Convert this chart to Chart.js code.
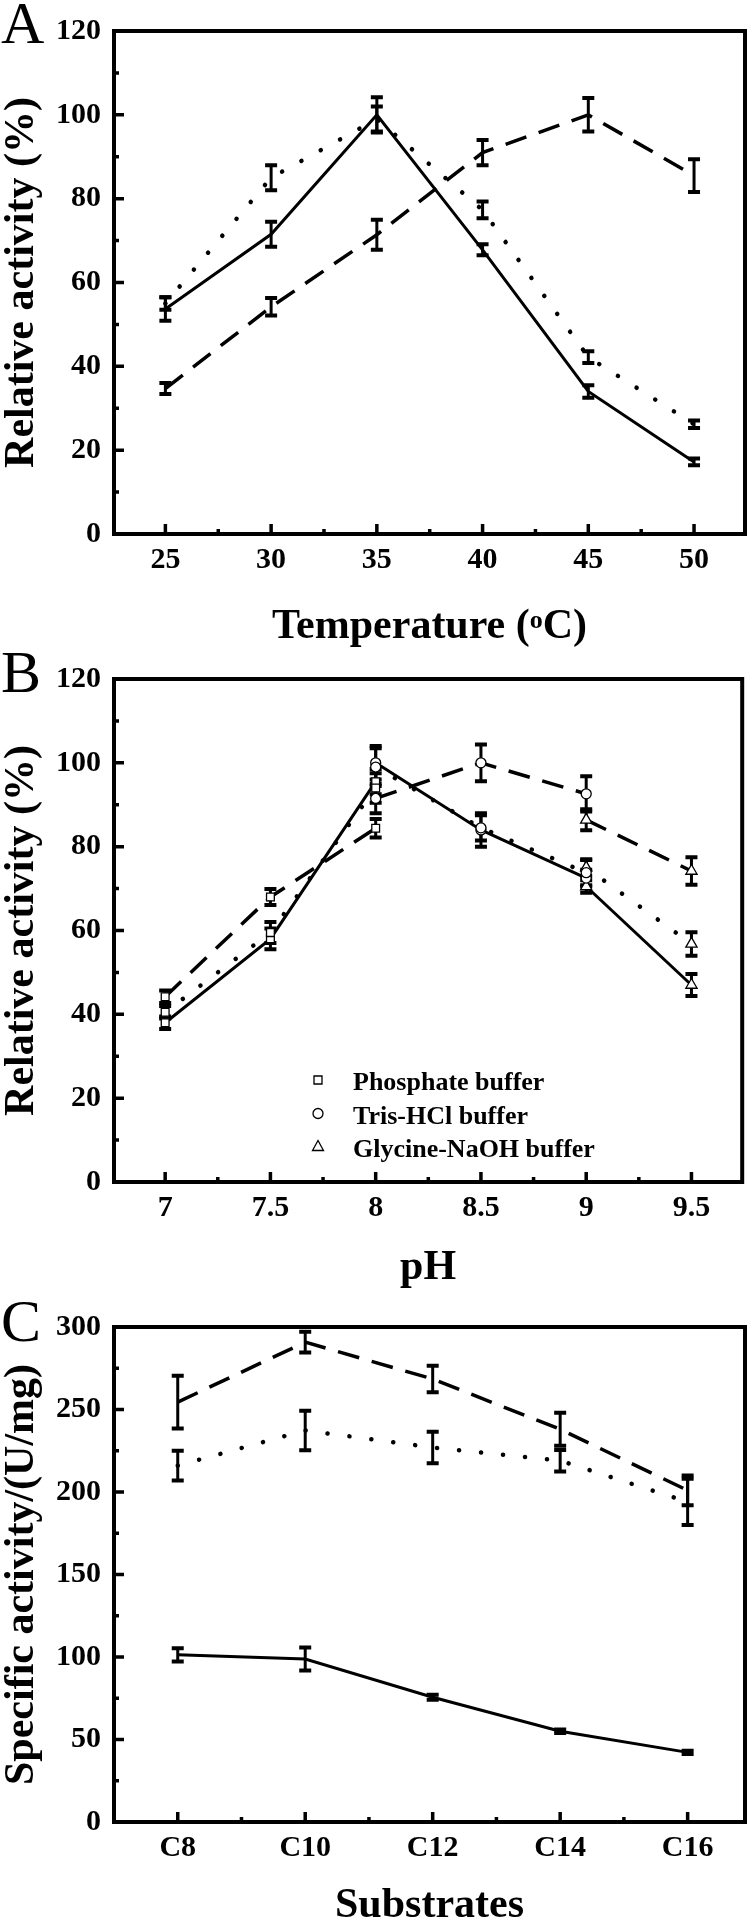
<!DOCTYPE html>
<html>
<head>
<meta charset="utf-8">
<script src="https://cdn.jsdelivr.net/npm/chart.js@4.4.1/dist/chart.umd.min.js"></script>
<style>
  html, body { margin: 0; padding: 0; background: #fff; }
  body { width: 750px; height: 1922px; position: relative; overflow: hidden; }
  canvas { position: absolute; left: 0; }
</style>
</head>
<body>
<canvas id="chartA" width="750" height="648" style="top:0px"></canvas>
<canvas id="chartB" width="750" height="648" style="top:648px"></canvas>
<canvas id="chartC" width="750" height="626" style="top:1296px"></canvas>
<script>
const FONT = "'Liberation Serif', 'Times New Roman', serif";

// --- Panel A: temperature
const tempX = [25, 30, 35, 40, 45, 50];
const tempTickLabels = ['25', '30', '35', '40', '45', '50'];
const tempTicksY = [0, 20, 40, 60, 80, 100, 120];
const tempSolid = [53.7, 71.5, 100, 67.8, 34, 17.2];
const tempSolidErr = [2.8, 3, 4.2, 1.3, 1.5, 0.8];
const tempDotted = [55, 85, 99, 77.3, 42.2, 26.2];
const tempDottedErr = [1.5, 3, 3, 2, 1.4, 0.9];
const tempDashed = [34.7, 54.2, 71.4, 91, 100, 85.5];
const tempDashedErr = [1.3, 2.1, 3.6, 3, 4, 3.9];

// --- Panel B: pH (three buffers)
const phTicksX = [7, 7.5, 8, 8.5, 9, 9.5];
const phTickLabels = ['7', '7.5', '8', '8.5', '9', '9.5'];
const phTicksY = [0, 20, 40, 60, 80, 100, 120];
const phPhosphate = [7, 7.5, 8];
const phTris = [8, 8.5, 9];
const phGlycine = [9, 9.5];
const bufferNames = ['Phosphate buffer', 'Tris-HCl buffer', 'Glycine-NaOH buffer'];

const solidPhosphate = [38, 58, 95.5];
const solidPhosphateErr = [1.5, 2.5, 3];
const solidTris = [100, 84, 72.5];
const solidTrisErr = [4, 4, 2];
const solidGlycine = [70.5, 47];
const solidGlycineErr = [1.5, 2.6];

const dottedPhosphate = [40.5, 59.5, 94];
const dottedPhosphateErr = [1.5, 2.5, 3.5];
const dottedTris = [99, 84.5, 73.8];
const dottedTrisErr = [4.5, 3, 3];
const dottedGlycine = [75, 56.8];
const dottedGlycineErr = [2, 2.8];

const dashedPhosphate = [44.2, 68, 84.4];
const dashedPhosphateErr = [1.5, 1.9, 2.2];
const dashedTris = [91.5, 100, 92.6];
const dashedTrisErr = [3.5, 4.4, 4.2];
const dashedGlycine = [86.4, 74.2];
const dashedGlycineErr = [2.5, 3.3];

// --- Panel C: substrates
const substrates = ['C8', 'C10', 'C12', 'C14', 'C16'];
const subTicksY = [0, 50, 100, 150, 200, 250, 300];
const subSolid = [101.3, 98.8, 75.6, 55, 42.2];
const subSolidErr = [4, 7, 1.5, 1, 1];
const subDotted = [216, 237.3, 227, 219, 194];
const subDottedErr = [9, 12, 9.5, 6.5, 14];
const subDashed = [254.5, 290.8, 268.5, 238, 201];
const subDashedErr = [16, 6.3, 8, 10, 9];

const LINE = {
  solid: { borderWidth: 3, borderDash: [] },
  dotted: { borderWidth: 4.5, borderDash: [0.1, 22], borderCapStyle: 'round' },
  dashed: { borderWidth: 3.5, borderDash: [22, 13] }
};
const MARK = {
  square: { style: 'rect', r: 5.5 },
  circle: { style: 'circle', r: 5 },
  triangle: { style: 'triangle', r: 6.5 }
};

function series(xs, ys, errs, style, marker) {
  return Object.assign({
    data: xs.map((x, i) => ({ x: x, y: ys[i] })),
    errors: errs,
    borderColor: '#000',
    fill: false,
    tension: 0,
    pointRadius: marker ? marker.r : 0,
    pointStyle: marker ? marker.style : 'circle',
    pointBackgroundColor: '#fff',
    pointBorderColor: '#000',
    pointBorderWidth: 1.3
  }, LINE[style]);
}

// text and legend bits per canvas
const panelInfo = {
  chartA: { letter: 'A', letterY: 43, titleY: 638,
            title: [{ t: 'Temperature (' }, { t: 'o', sup: true }, { t: 'C)' }] },
  chartB: { letter: 'B', letterY: 44, titleY: 631, title: [{ t: 'pH' }], legend: true },
  chartC: { letter: 'C', letterY: 45, titleY: 621, title: [{ t: 'Substrates' }] }
};

// error bars, drawn under the lines/markers
const errorBars = {
  id: 'errorBars',
  beforeDatasetsDraw(chart) {
    const { ctx, scales: { x, y } } = chart;
    ctx.save();
    ctx.strokeStyle = '#000';
    chart.data.datasets.forEach(ds => {
      if (!ds.errors) return;
      ds.data.forEach((p, i) => {
        const e = ds.errors[i];
        const px = x.getPixelForValue(p.x);
        const top = y.getPixelForValue(p.y + e);
        const bot = y.getPixelForValue(p.y - e);
        ctx.lineWidth = 3;
        ctx.beginPath();
        ctx.moveTo(px, top);
        ctx.lineTo(px, bot);
        ctx.stroke();
        ctx.lineWidth = 4;
        ctx.beginPath();
        ctx.moveTo(px - 6, top); ctx.lineTo(px + 6, top);
        ctx.moveTo(px - 6, bot); ctx.lineTo(px + 6, bot);
        ctx.stroke();
      });
    });
    ctx.restore();
  }
};

// box frame + inward major/minor ticks
const frame = {
  id: 'frame',
  afterDraw(chart) {
    const { ctx, chartArea: a, scales: { x, y } } = chart;
    ctx.save();
    ctx.strokeStyle = '#000';
    ctx.lineWidth = 3.5;
    const xt = x.ticks.map(t => t.value);
    const yt = y.ticks.map(t => t.value);
    ctx.beginPath();
    xt.forEach((v, i) => {
      const px = x.getPixelForValue(v);
      ctx.moveTo(px, a.bottom); ctx.lineTo(px, a.bottom - 10);
      if (i < xt.length - 1) {
        const m = x.getPixelForValue((v + xt[i + 1]) / 2);
        ctx.moveTo(m, a.bottom); ctx.lineTo(m, a.bottom - 5);
      }
    });
    yt.forEach((v, i) => {
      const py = y.getPixelForValue(v);
      ctx.moveTo(a.left, py); ctx.lineTo(a.left + 10, py);
      if (i < yt.length - 1) {
        const m = y.getPixelForValue((v + yt[i + 1]) / 2);
        ctx.moveTo(a.left, m); ctx.lineTo(a.left + 5, m);
      }
    });
    ctx.stroke();
    ctx.lineWidth = 4;
    ctx.strokeRect(a.left, a.top, a.right - a.left, a.bottom - a.top);
    ctx.restore();
  }
};

// panel letter, x title (with superscript), legend
const texts = {
  id: 'texts',
  afterDraw(chart) {
    const info = panelInfo[chart.canvas.id];
    const { ctx, chartArea: a } = chart;
    ctx.save();
    ctx.fillStyle = '#000';
    ctx.textBaseline = 'alphabetic';
    ctx.textAlign = 'left';
    ctx.font = '60px ' + FONT;
    ctx.fillText(info.letter, 1, info.letterY);

    const big = 'bold 42px ' + FONT, small = 'bold 26px ' + FONT;
    let w = 0;
    info.title.forEach(p => { ctx.font = p.sup ? small : big; p.w = ctx.measureText(p.t).width; w += p.w; });
    let cx = (a.left + a.right) / 2 - w / 2;
    info.title.forEach(p => {
      ctx.font = p.sup ? small : big;
      ctx.fillText(p.t, cx, info.titleY - (p.sup ? 10 : 0));
      cx += p.w;
    });

    if (info.legend) {
      const rows = [432, 465.5, 498.5];
      ctx.font = 'bold 26px ' + FONT;
      ctx.lineWidth = 1.3;
      ctx.strokeStyle = '#000';
      bufferNames.forEach((name, i) => {
        const mx = 318, my = rows[i];
        ctx.beginPath();
        if (i === 0) ctx.rect(mx - 4, my - 4, 8, 8);
        else if (i === 1) ctx.arc(mx, my, 5, 0, Math.PI * 2);
        else { ctx.moveTo(mx, my - 6); ctx.lineTo(mx + 5.5, my + 4); ctx.lineTo(mx - 5.5, my + 4); ctx.closePath(); }
        ctx.stroke();
        ctx.fillText(name, 353, my + 10);
      });
    }
    ctx.restore();
  }
};

function makeOptions(c) {
  const tickFont = { family: FONT, size: 30, weight: 'bold', lineHeight: 1.2 };
  return {
    responsive: false,
    animation: false,
    devicePixelRatio: 1,
    layout: { padding: { top: c.top, right: 5, left: 0, bottom: 0 } },
    plugins: { legend: { display: false }, tooltip: { enabled: false } },
    scales: {
      x: {
        type: 'linear', min: c.xMin, max: c.xMax,
        grid: { display: false, drawTicks: false },
        border: { display: false },
        ticks: { font: tickFont, color: '#000', padding: 8, maxRotation: 0, autoSkip: false,
                 callback: (v, i) => c.xLabels[i] },
        afterBuildTicks: s => { s.ticks = c.xTicks.map(v => ({ value: v })); },
        afterFit: s => { s.height = c.xHeight; }
      },
      y: {
        type: 'linear', min: c.yTicks[0], max: c.yTicks[c.yTicks.length - 1],
        grid: { display: false, drawTicks: false },
        border: { display: false },
        ticks: { font: tickFont, color: '#000', padding: 13 },
        afterBuildTicks: s => { s.ticks = c.yTicks.map(v => ({ value: v })); },
        afterFit: s => { s.width = 114; },
        title: { display: true, text: c.yTitle, color: '#000',
                 font: { family: FONT, size: 42, weight: 'bold', lineHeight: 1 },
                 padding: { top: 1, bottom: 0 } }
      }
    }
  };
}

new Chart(document.getElementById('chartA'), {
  type: 'line',
  data: {
    datasets: [
      series(tempX, tempDashed, tempDashedErr, 'dashed'),
      series(tempX, tempDotted, tempDottedErr, 'dotted'),
      series(tempX, tempSolid, tempSolidErr, 'solid')
    ]
  },
  options: makeOptions({ top: 24, xHeight: 114, xMin: 22.57, xMax: 52.41,
    xTicks: tempX, xLabels: tempTickLabels, yTicks: tempTicksY, yTitle: 'Relative activity (%)' }),
  plugins: [errorBars, frame, texts]
});

new Chart(document.getElementById('chartB'), {
  type: 'line',
  data: {
    datasets: [
      series(phPhosphate, dashedPhosphate, dashedPhosphateErr, 'dashed', MARK.square),
      series(phTris, dashedTris, dashedTrisErr, 'dashed', MARK.circle),
      series(phGlycine, dashedGlycine, dashedGlycineErr, 'dashed', MARK.triangle),
      series(phPhosphate, dottedPhosphate, dottedPhosphateErr, 'dotted', MARK.square),
      series(phTris, dottedTris, dottedTrisErr, 'dotted', MARK.circle),
      series(phGlycine, dottedGlycine, dottedGlycineErr, 'dotted', MARK.triangle),
      series(phPhosphate, solidPhosphate, solidPhosphateErr, 'solid', MARK.square),
      series(phTris, solidTris, solidTrisErr, 'solid', MARK.circle),
      series(phGlycine, solidGlycine, solidGlycineErr, 'solid', MARK.triangle)
    ]
  },
  options: makeOptions({ top: 22, xHeight: 114, xMin: 6.757, xMax: 9.741,
    xTicks: phTicksX, xLabels: phTickLabels, yTicks: phTicksY, yTitle: 'Relative activity (%)' }),
  plugins: [errorBars, frame, texts]
});

const subIdx = substrates.map((s, i) => i);
new Chart(document.getElementById('chartC'), {
  type: 'line',
  data: {
    datasets: [
      series(subIdx, subDashed, subDashedErr, 'dashed'),
      series(subIdx, subDotted, subDottedErr, 'dotted'),
      series(subIdx, subSolid, subSolidErr, 'solid')
    ]
  },
  options: makeOptions({ top: 15, xHeight: 100, xMin: -0.5, xMax: 4.45,
    xTicks: subIdx, xLabels: substrates, yTicks: subTicksY, yTitle: 'Specific activity/(U/mg)' }),
  plugins: [errorBars, frame, texts]
});
</script>
</body>
</html>
